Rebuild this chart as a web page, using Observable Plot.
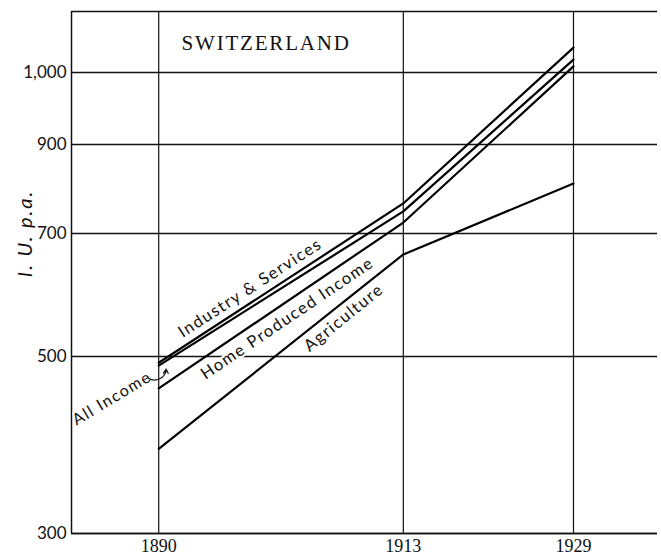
<!DOCTYPE html>
<html>
<head>
<meta charset="utf-8">
<script src="https://cdn.jsdelivr.net/npm/d3@7"></script>
<script src="https://cdn.jsdelivr.net/npm/@observablehq/plot@0.6"></script>
<style>
  html, body { margin: 0; padding: 0; background: #fff; }
  .lbl text { letter-spacing: 1.5px; }
  .ttl text { letter-spacing: 1.8px; }
  .ylab text { letter-spacing: 2px; }
</style>
</head>
<body>
<div id="chart"></div>
<script>
// ---- data ----
const years = [1890, 1913, 1929];
const industryServices = [491, 762, 1037];
const allIncome = [487, 745, 1019];
const homeProduced = [456, 722, 1009];
const agriculture = [383, 661, 806];

const yTicks = [300, 500, 700, 900, 1000];
const xTicks = [1890, 1913, 1929];

const title = "SWITZERLAND";
const yLabel = "I. U. p.a.";

// label anchors in data units [year, value]
const labelIndustry = {year: 1898.6, value: 603, text: "Industry & Services"};
const labelHome = {year: 1902.1, value: 555, text: "Home Produced Income"};
const labelAgri = {year: 1907.4, value: 556, text: "Agriculture"};
const labelAll = {year: 1885.6, value: 443, text: "All Income"};
const labelTitle = {year: 1900.1, value: 1043, text: title};
const arrowAll = {x1: 1889.0, y1: 470, x2: 1890.7, y2: 482};

// ---- build table ----
const series = [
  ["Industry & Services", industryServices],
  ["All Income", allIncome],
  ["Home Produced Income", homeProduced],
  ["Agriculture", agriculture]
];
const rows = series.flatMap(([name, vals]) => years.map((yr, i) => ({name, year: yr, value: vals[i]})));

const xDomain = [1881.8, 1936.9];
const yDomain = [300, 500, 700, 900, 1000, 1093];
const yRange = [533, 356, 233, 144, 72, 11];

const sans = "Lato, 'Open Sans', sans-serif";
const serif = "'Liberation Serif', 'DejaVu Serif', serif";

const chart = Plot.plot({
  width: 661,
  height: 555,
  marginLeft: 71,
  marginRight: 4,
  marginTop: 11,
  marginBottom: 22,
  x: {domain: xDomain, axis: null},
  y: {type: "log", domain: yDomain, range: yRange, axis: null},
  marks: [
    // grid
    Plot.ruleY(yTicks, {stroke: "#111", strokeWidth: 1.3}),
    Plot.ruleX(xTicks, {stroke: "#111", strokeWidth: 1.2}),
    // frame (left, top, bottom)
    Plot.ruleX([xDomain[0]], {stroke: "#111", strokeWidth: 1.5}),
    Plot.ruleY([yDomain[yDomain.length - 1]], {stroke: "#111", strokeWidth: 1.5}),
    Plot.ruleY([yDomain[0]], {stroke: "#111", strokeWidth: 1.5}),
    // axes
    Plot.axisY(yTicks, {tickSize: 0, tickPadding: 5, tickFormat: d3.format(","), fontSize: 17, fontFamily: sans, fill: "#111", label: null}),
    Plot.axisX(xTicks, {tickSize: 0, tickPadding: 6, tickFormat: d => String(d), fontSize: 18, fontFamily: serif, fill: "#111", label: null}),
    Plot.text([yLabel], {x: () => xDomain[0], y: () => 700, text: d => d, rotate: -90, dx: -46, fontSize: 20, fontStyle: "italic", fontFamily: sans, fill: "#111", className: "ylab"}),
    // title
    Plot.text([labelTitle], {x: "year", y: "value", text: "text", fontSize: 21, fontFamily: serif, fill: "#111", className: "ttl"}),
    // line labels
    Plot.text([labelIndustry], {x: "year", y: "value", text: "text", rotate: -33, fontSize: 16.5, fontFamily: sans, fill: "#111", stroke: "white", strokeWidth: 4, paintOrder: "stroke", className: "lbl"}),
    Plot.text([labelHome], {x: "year", y: "value", text: "text", rotate: -34, fontSize: 16.5, fontFamily: sans, fill: "#111", stroke: "white", strokeWidth: 4, paintOrder: "stroke", className: "lbl"}),
    Plot.text([labelAgri], {x: "year", y: "value", text: "text", rotate: -39, fontSize: 16.5, fontFamily: sans, fill: "#111", stroke: "white", strokeWidth: 4, paintOrder: "stroke", className: "lbl"}),
    Plot.text([labelAll], {x: "year", y: "value", text: "text", rotate: -31, fontSize: 16, fontFamily: sans, fill: "#111", stroke: "white", strokeWidth: 4, paintOrder: "stroke", className: "lbl"}),
    Plot.arrow([arrowAll], {x1: "x1", y1: "y1", x2: "x2", y2: "y2", bend: -60, headLength: 6, stroke: "#111", strokeWidth: 1.2}),
    // data lines
    Plot.line(rows, {x: "year", y: "value", z: "name", stroke: "#000", strokeWidth: 2.2})
  ]
});
document.getElementById("chart").appendChild(chart);
</script>
</body>
</html>
